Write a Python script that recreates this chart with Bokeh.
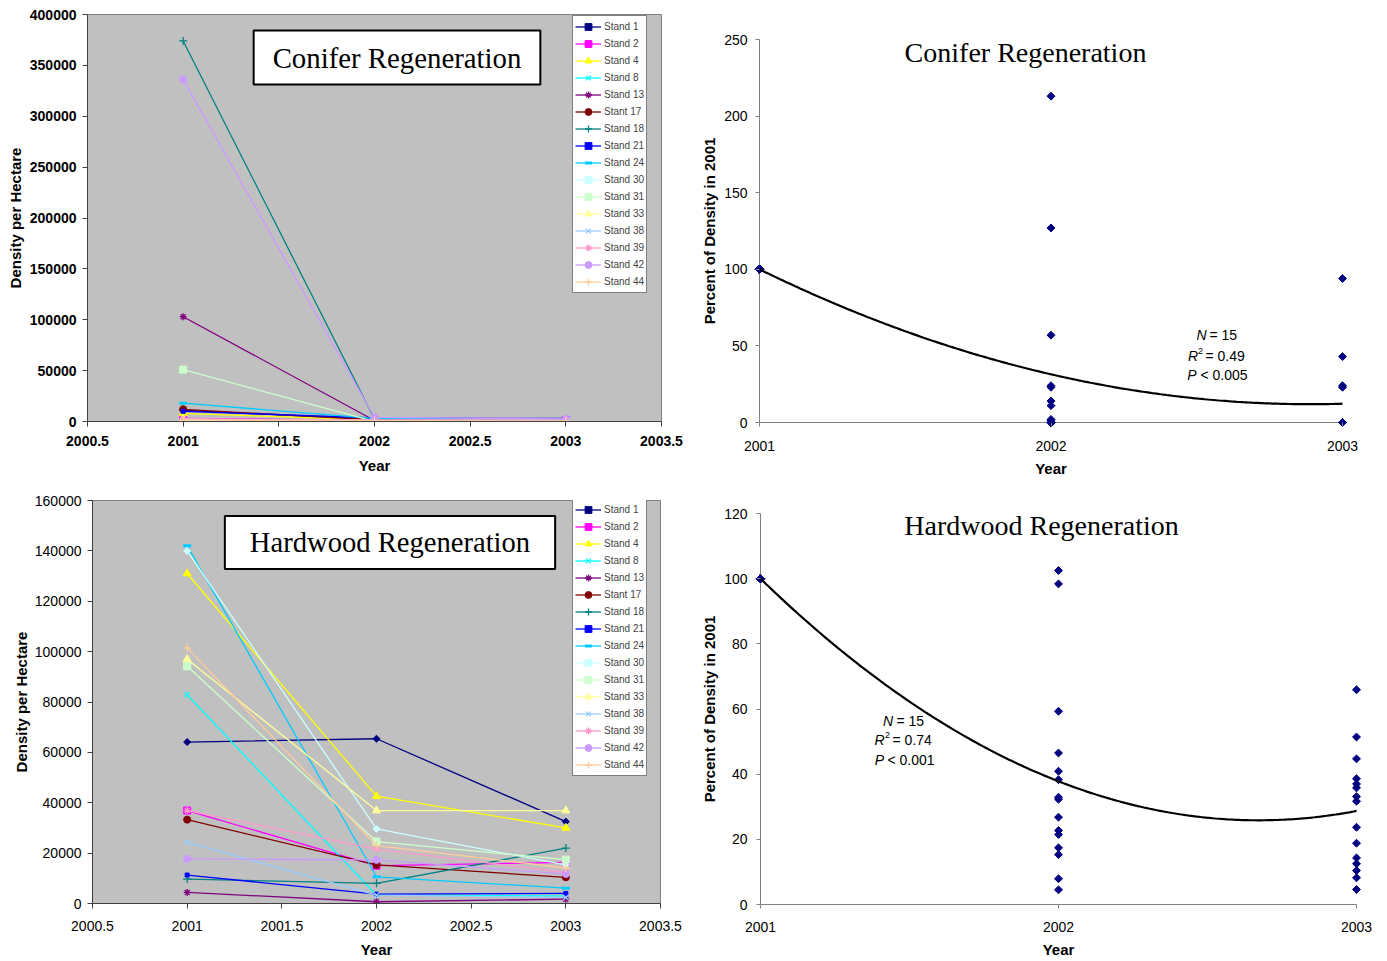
import numpy as np
from bokeh.plotting import figure
from bokeh.layouts import column, row
from bokeh.models import (Label, Legend, LegendItem, FixedTicker, NumeralTickFormatter,
                          Range1d)
from bokeh.embed import file_html
from bokeh.resources import INLINE

# ---------------------------------------------------------------- data
years = [2001, 2002, 2003]
stands = ["Stand 1", "Stand 2", "Stand 4", "Stand 8", "Stand 13", "Stant 17",
          "Stand 18", "Stand 21", "Stand 24", "Stand 30", "Stand 31", "Stand 33",
          "Stand 38", "Stand 39", "Stand 42", "Stand 44"]

# conifer seedlings per hectare, one value per stand
conifer_2001 = [11000, 3000, 8000, 1500, 103000, 12000, 374000, 10000,
                18000, 1000, 51000, 2500, 2000, 2000, 336000, 1500]
conifer_2002 = [2000, 1000, 1500, 500, 1000, 1500, 2500, 3500,
                3000, 500, 0, 800, 1000, 1500, 4000, 800]
conifer_2003 = [1500, 1500, 500, 300, 500, 800, 2000, 3000,
                2500, 300, 0, 500, 1000, 1500, 2500, 500]

# hardwood stems per hectare, one value per stand
hardwood_2001 = [64100, 36900, 131000, 82900, 4400, 33300, 9700, 11300,
                 142000, 140000, 94200, 97000, 24300, 36900, 17700, 101500]
hardwood_2002 = [65400, 15000, 42600, 3300, 700, 15300, 8000, 3700,
                 10600, 29600, 24600, 36900, 3300, 21600, 17300, 23000]
hardwood_2003 = [32500, 16300, 30000, 3000, 1700, 10400, 22000, 4000,
                 6100, 15300, 17400, 36900, 2400, 12300, 11700, 14100]

# density as percent of the 2001 density (N = 15 stands)
conifer_pct_2001 = [100, 100, 100, 100, 100, 100, 100, 100, 100, 100, 100, 100, 100, 100, 100]
conifer_pct_2002 = [213, 127, 57, 24, 23, 14, 11, 2, 1, 0, 0, 0, 0, 0, 0]
conifer_pct_2003 = [94, 43, 24, 23, 0, 0, 0, 0, 0, 0, 0, 0, 0, 0, 0]

hardwood_pct_2001 = [100, 100, 100, 100, 100, 100, 100, 100, 100, 100, 100, 100, 100, 100, 100]
hardwood_pct_2002 = [102.5, 98.4, 59.3, 46.5, 40.9, 38.3, 32.9, 32.3, 26.8, 22.7,
                     21.5, 17.4, 15.3, 7.9, 4.5]
hardwood_pct_2003 = [65.9, 51.4, 44.7, 38.6, 37.0, 35.8, 33.1, 31.7, 23.7, 18.8,
                     14.3, 12.5, 10.4, 8.2, 4.6]

# ---------------------------------------------------------------- styles
colors = ["#000080", "#FF00FF", "#FFFF00", "#00FFFF", "#800080", "#800000",
          "#008080", "#0000FF", "#00CCFF", "#CCFFFF", "#CCFFCC", "#FFFF99",
          "#99CCFF", "#FF99CC", "#CC99FF", "#FFCC99"]
markers = ["square", "square", "triangle", "x", "asterisk", "circle",
           "cross", "square", "dash", "square", "square", "triangle",
           "x", "asterisk", "circle", "cross"]
angles = [np.pi / 4, 0, 0, 0, 0, 0, 0, 0, 0, np.pi / 4, 0, 0, 0, 0, 0, 0]
sizes = [5, 7, 8, 7, 7, 7, 8, 4, 8, 5, 7, 8, 7, 7, 7, 8]
mlw = [1, 1, 1, 1.3, 1.3, 1, 1.3, 1, 3, 1, 1, 1, 1.3, 1.3, 1, 1.3]

SANS = "Liberation Sans"
SERIF = "Liberation Serif"


def density_figure(width, height, borders, ymax, ystep, d01, d02, d03,
                   tick_style, legend_xy):
    left, right, top, bottom = borders
    p = figure(width=width, height=height,
               x_range=Range1d(2000.5, 2003.5), y_range=Range1d(0, ymax),
               output_backend="svg", toolbar_location=None,
               min_border_left=left, min_border_right=right,
               min_border_top=top, min_border_bottom=bottom,
               background_fill_color="#C0C0C0", border_fill_color="white",
               outline_line_color="#808080")
    p.frame_align = False
    p.grid.visible = False

    items = []
    for i, name in enumerate(stands):
        ys = [d01[i], d02[i], d03[i]]
        lr = p.line(years, ys, line_color=colors[i], line_width=1.3)
        sr = p.scatter(years, ys, marker=markers[i], size=sizes[i], angle=angles[i],
                       fill_color=colors[i], line_color=colors[i], line_width=mlw[i])
        items.append(LegendItem(label=name, renderers=[lr, sr]))

    legend = Legend(items=items, location=legend_xy,
                    label_text_font=SANS, label_text_font_size="10px",
                    glyph_width=26, glyph_height=17, label_height=12,
                    label_standoff=3, spacing=0, padding=2,
                    border_line_color="black", border_line_width=1,
                    background_fill_color="white", background_fill_alpha=1.0)
    p.add_layout(legend)

    p.xaxis.ticker = FixedTicker(ticks=[2000.5, 2001, 2001.5, 2002, 2002.5, 2003, 2003.5])
    p.xaxis.formatter = NumeralTickFormatter(format="0.[0]")
    p.yaxis.ticker = FixedTicker(ticks=list(range(0, ymax + 1, ystep)))
    p.yaxis.formatter = NumeralTickFormatter(format="0")
    for ax in (p.xaxis, p.yaxis):
        ax.axis_line_color = "#404040"
        ax.major_tick_line_color = "#404040"
        ax.major_tick_out = 5
        ax.major_tick_in = 0
        ax.minor_tick_line_color = None
        ax.major_label_text_font = SANS
        ax.major_label_text_font_size = "14px"
        ax.major_label_text_font_style = tick_style
        ax.major_label_text_color = "black"
        ax.axis_label_text_font = SANS
        ax.axis_label_text_font_size = "15px"
        ax.axis_label_text_font_style = "bold"
        ax.axis_label_text_color = "black"
    p.xaxis.axis_label = "Year"
    p.yaxis.axis_label = "Density per Hectare"
    p.yaxis.major_label_standoff = 6
    p.yaxis.axis_label_standoff = 5
    return p


def add_title_box(p, title, xy, size, hpad):
    p.add_layout(Label(x=xy[0], y=xy[1], x_units="screen", y_units="screen",
                       text=title, text_font=SERIF, text_font_size=size,
                       text_align="center", text_baseline="middle", text_color="black",
                       background_fill_color="white", border_line_color="black",
                       border_line_width=2, padding=(hpad, 11)))


# ---- top left: conifer density
p1 = density_figure(696, 480, (87, 35, 14, 59), 400000, 50000,
                    conifer_2001, conifer_2002, conifer_2003, "bold", (485, 128))
p1.xaxis.major_label_standoff = 9
p1.xaxis.axis_label_standoff = 8
p1.yaxis.axis_label_standoff = 3
add_title_box(p1, "Conifer Regeneration", (309.5, 364), "28.8px", 19)

# ---- bottom left: hardwood density
p3 = density_figure(696, 481, (92, 36, 20, 58), 160000, 20000,
                    hardwood_2001, hardwood_2002, hardwood_2003, "normal", (480, 127))
p3.xaxis.major_label_standoff = 12
p3.xaxis.axis_label_standoff = 7
p3.yaxis.axis_label_standoff = 2
add_title_box(p3, "Hardwood Regeneration", (297.5, 361), "28.6px", 25)


def percent_figure(width, height, x_lo, x_hi, y_lo, y_hi, pad, ymax, ystep,
                   p01, p02, p03, title, title_xy, stats, x_standoff, y_standoff):
    # x_lo/x_hi: pixel columns of the first/last year, y_lo/y_hi: pixel rows of 0/ymax
    fl, fr = x_lo - pad, x_hi + pad
    ft, fb = y_hi - pad, y_lo + pad
    ppx = (x_hi - x_lo) / (years[-1] - years[0])
    ppy = (y_lo - y_hi) / ymax
    p = figure(width=width, height=height,
               x_range=Range1d(years[0] - pad / ppx, years[-1] + pad / ppx),
               y_range=Range1d(-pad / ppy, ymax + pad / ppy),
               output_backend="svg", toolbar_location=None,
               min_border_left=fl, min_border_right=width - fr,
               min_border_top=ft, min_border_bottom=height - fb,
               background_fill_color="white", border_fill_color="white",
               outline_line_color=None)
    p.frame_align = False
    p.grid.visible = False

    # axis lines through the first year and through zero
    p.segment(x0=[years[0], years[0]], y0=[0, 0], x1=[years[0], years[-1]], y1=[ymax, 0],
              line_color="#808080", line_width=1)

    xs = [years[0]] * len(p01) + [years[1]] * len(p02) + [years[2]] * len(p03)
    ys = list(p01) + list(p02) + list(p03)
    p.scatter(xs, ys, marker="square", angle=np.pi / 4, size=5.6,
              fill_color="#000080", line_color="#000080")
    coef = np.polyfit(np.array(xs, dtype=float) - years[0], np.array(ys, dtype=float), 2)
    tt = np.linspace(0, years[-1] - years[0], 200)
    p.line(years[0] + tt, np.polyval(coef, tt), line_color="black", line_width=2.2)

    p.xaxis.ticker = FixedTicker(ticks=years)
    p.yaxis.ticker = FixedTicker(ticks=list(range(0, ymax + 1, ystep)))
    for ax in (p.xaxis, p.yaxis):
        ax.axis_line_color = None
        ax.major_tick_line_color = "#808080"
        # ticks sit on the drawn axis lines, which lie `pad` pixels inside the frame
        ax.major_tick_in = pad
        ax.major_tick_out = 4 - pad
        ax.minor_tick_line_color = None
        ax.major_label_text_font = SANS
        ax.major_label_text_font_size = "14px"
        ax.major_label_text_color = "black"
        ax.axis_label_text_font = SANS
        ax.axis_label_text_font_size = "15px"
        ax.axis_label_text_font_style = "bold"
        ax.axis_label_text_color = "black"
    p.xaxis.major_label_standoff = x_standoff
    p.yaxis.major_label_standoff = y_standoff
    p.xaxis.axis_label = "Year"
    p.yaxis.axis_label = "Percent of Density in 2001"
    p.xaxis.axis_label_standoff = 6
    p.yaxis.axis_label_standoff = 3

    def fxy(cx, cy):
        return cx - fl, fb - cy

    # chart title
    tx, ty = fxy(*title_xy)
    p.add_layout(Label(x=tx, y=ty, x_units="screen", y_units="screen", text=title,
                       text_font=SERIF, text_font_size="28px",
                       text_align="center", text_baseline="middle", text_color="black"))

    # regression statistics
    for (text, cx, cy, align, style, size) in stats:
        sx, sy = fxy(cx, cy)
        p.add_layout(Label(x=sx, y=sy, x_units="screen", y_units="screen", text=text,
                           text_font=SANS, text_font_size=size, text_font_style=style,
                           text_align=align, text_baseline="middle", text_color="black"))
    return p


# ---- top right: conifer percent of 2001 density (figure origin x=696, y=0)
OX = 696
stats_conifer = [
    ("N", 1206 - OX, 334.5, "right", "italic", "14px"),
    ("= 15", 1209 - OX, 334.5, "left", "normal", "14px"),
    ("R", 1197.5 - OX, 355, "right", "italic", "14px"),
    ("2", 1197.5 - OX, 350, "left", "normal", "9px"),
    ("= 0.49", 1205 - OX, 355, "left", "normal", "14px"),
    ("P", 1196 - OX, 374, "right", "italic", "14px"),
    ("< 0.005", 1200 - OX, 374, "left", "normal", "14px"),
]
p2 = percent_figure(691, 480, 759 - OX, 1342 - OX, 422, 39, 6, 250, 50,
                    conifer_pct_2001, conifer_pct_2002, conifer_pct_2003,
                    "Conifer Regeneration", (1025 - OX, 52), stats_conifer, 12, 6)

# ---- bottom right: hardwood percent of 2001 density (figure origin x=696, y=480)
OY = 480
stats_hardwood = [
    ("N", 892.5 - OX, 720 - OY, "right", "italic", "14px"),
    ("= 15", 896 - OX, 720 - OY, "left", "normal", "14px"),
    ("R", 884 - OX, 739 - OY, "right", "italic", "14px"),
    ("2", 884.5 - OX, 734.5 - OY, "left", "normal", "9px"),
    ("= 0.74", 892 - OX, 739 - OY, "left", "normal", "14px"),
    ("P", 883.5 - OX, 759 - OY, "right", "italic", "14px"),
    ("< 0.001", 887 - OX, 759 - OY, "left", "normal", "14px"),
]
p4 = percent_figure(691, 481, 760 - OX, 1356 - OX, 904 - OY, 513 - OY, 6, 120, 20,
                    hardwood_pct_2001, hardwood_pct_2002, hardwood_pct_2003,
                    "Hardwood Regeneration", (1041 - OX, 525 - OY), stats_hardwood, 11, 7)

layout = column(row(p1, p2), row(p3, p4))
open("out.html", "w").write(file_html(layout, INLINE))
